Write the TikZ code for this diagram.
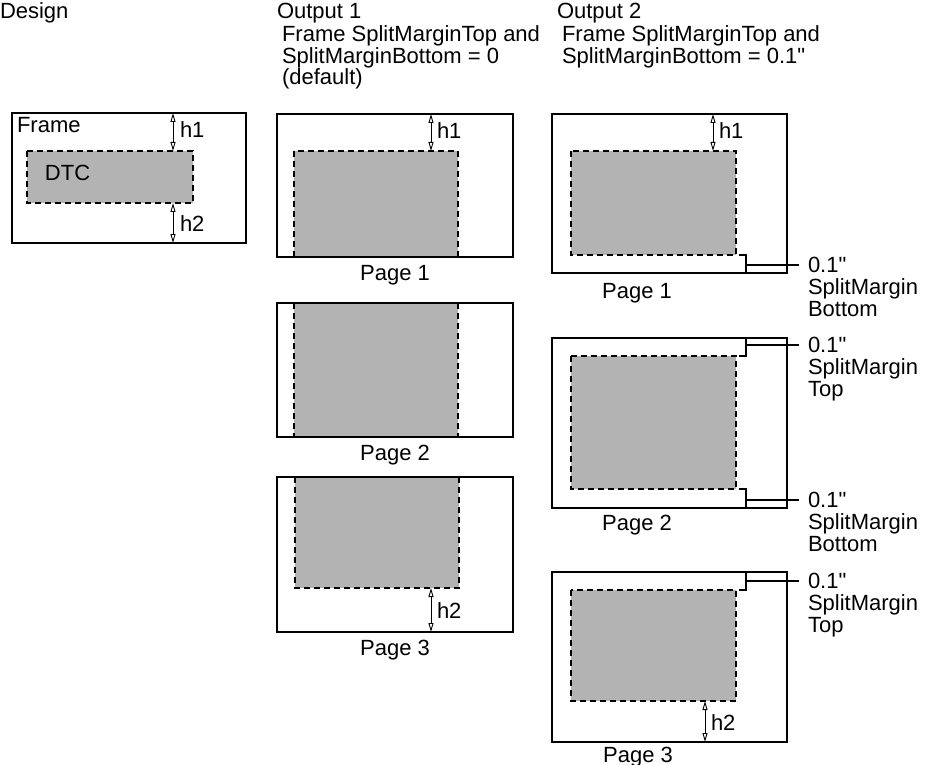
\documentclass[tikz,border=0pt]{standalone}
\usepackage{fontspec}
\setmainfont{Liberation Sans}
\newfontfamily\lsans{Liberation Sans}
\usetikzlibrary{arrows.meta}
\definecolor{dtcgray}{RGB}{179,179,179}
\begin{document}
\begin{tikzpicture}[x=1pt,y=-1pt,
  frm/.style={draw=black, line width=2.2pt},
  dtcfill/.style={fill=dtcgray},
  dtcedge/.style={draw=black, line width=1.8pt, dash pattern=on 6pt off 4pt},
  dimarrow/.style={{Triangle[open,length=9pt,width=5pt]}-{Triangle[open,length=9pt,width=5pt]}, line width=0.9pt},
  conn/.style={draw=black, line width=1.8pt},
  txt/.style={font=\lsans\fontsize{22}{20.5}\selectfont, inner sep=0pt, outer sep=0pt},
  mtxt/.style={txt, align=left, anchor=north west},
  rtxt/.style={font=\lsans\fontsize{22}{22}\selectfont, inner sep=0pt, outer sep=0pt, align=left, anchor=north west}
]
\useasboundingbox (0,0) rectangle (927,765);

% ---------------- headers
\node[txt, anchor=base west] (hdesign) at (0,19) {Design};
\node[txt, anchor=base west] (hout1) at (277,19) {Output 1};
\node[mtxt] (hout1b) at (282,26) {Frame SplitMarginTop and\\SplitMarginBottom = 0\\(default)};
\node[txt, anchor=base west] (hout2) at (557,19) {Output 2};
\node[mtxt] (hout2b) at (562,26) {Frame SplitMarginTop and\\SplitMarginBottom = 0.1"};

% ---------------- design
\fill[dtcfill] (27,151) rectangle (193,203);
\draw[frm] (12,113) rectangle (246,243);
\draw[dtcedge] (27,151) rectangle (193,203);
\node[txt, anchor=base west] (dframe) at (17,133) {Frame};
\node[txt, anchor=base west] (ddtc) at (45,181) {DTC};
\coordinate (dh1a) at (173,113); \coordinate (dh1b) at (173,151);
\coordinate (dh2a) at (173,203); \coordinate (dh2b) at (173,243);
\draw[dimarrow] (dh1a) -- (dh1b);
\draw[dimarrow] (dh2a) -- (dh2b);
\node[txt, anchor=base west] (dh1) at (180,138) {h1};
\node[txt, anchor=base west] (dh2) at (180,231) {h2};

% ---------------- output 1
% page 1
\fill[dtcfill] (294,151) rectangle (458,257);
\draw[frm] (277,114) rectangle (513,257);
\draw[dtcedge] (294,151) rectangle (458,257);
\coordinate (ah1a) at (431,114); \coordinate (ah1b) at (431,151);
\draw[dimarrow] (ah1a) -- (ah1b);
\node[txt, anchor=base west] (ah1) at (437,139) {h1};
\node[txt, anchor=base] (ap1) at (395,280) {Page 1};
% page 2
\fill[dtcfill] (294,303) rectangle (458,437);
\draw[frm] (277,303) rectangle (513,437);
\draw[dtcedge] (294,303) -- (294,437);
\draw[dtcedge] (458,303) -- (458,437);
\node[txt, anchor=base] (ap2) at (395,460) {Page 2};
% page 3
\fill[dtcfill] (295,477) rectangle (459,588);
\draw[frm] (277,477) rectangle (513,632);
\draw[dtcedge] (295,477) rectangle (459,588);
\coordinate (ah2a) at (431,588); \coordinate (ah2b) at (431,632);
\draw[dimarrow] (ah2a) -- (ah2b);
\node[txt, anchor=base west] (ah2) at (437,618) {h2};
\node[txt, anchor=base] (ap3) at (395,655) {Page 3};

% ---------------- output 2
% page 1
\fill[dtcfill] (571,151) rectangle (736,255);
\draw[frm] (552,114) rectangle (787,273);
\draw[dtcedge] (571,151) rectangle (736,255);
\coordinate (bh1a) at (713,114); \coordinate (bh1b) at (713,151);
\draw[dimarrow] (bh1a) -- (bh1b);
\node[txt, anchor=base west] (bh1) at (719,139) {h1};
\node[txt, anchor=base] (bp1) at (637,298) {Page 1};
\coordinate (k1a) at (739,255); \coordinate (k1b) at (746,255); \coordinate (k1c) at (746,273);
\draw[conn] (k1a) -- (k1b) -- (k1c);
\coordinate (k1m) at (746,265); \coordinate (k1e) at (799,265);
\draw[conn] (k1m) -- (k1e);
\node[rtxt] (m1) at (808,257) {0.1"\\SplitMargin\\Bottom};
% page 2
\fill[dtcfill] (571,356) rectangle (736,489);
\draw[frm] (552,338) rectangle (787,508);
\draw[dtcedge] (571,356) rectangle (736,489);
\coordinate (k2a) at (739,356); \coordinate (k2b) at (746,356); \coordinate (k2c) at (746,338);
\draw[conn] (k2a) -- (k2b) -- (k2c);
\coordinate (k2m) at (746,345); \coordinate (k2e) at (799,345);
\draw[conn] (k2m) -- (k2e);
\node[rtxt] (m2) at (808,337) {0.1"\\SplitMargin\\Top};
\coordinate (k3a) at (739,489); \coordinate (k3b) at (746,489); \coordinate (k3c) at (746,508);
\draw[conn] (k3a) -- (k3b) -- (k3c);
\coordinate (k3m) at (746,500); \coordinate (k3e) at (799,500);
\draw[conn] (k3m) -- (k3e);
\node[rtxt] (m3) at (808,492) {0.1"\\SplitMargin\\Bottom};
\node[txt, anchor=base] (bp2) at (637,530) {Page 2};
% page 3
\fill[dtcfill] (571,590) rectangle (736,701);
\draw[frm] (552,572) rectangle (787,742);
\draw[dtcedge] (571,590) rectangle (736,701);
\coordinate (k4a) at (739,590); \coordinate (k4b) at (746,590); \coordinate (k4c) at (746,572);
\draw[conn] (k4a) -- (k4b) -- (k4c);
\coordinate (k4m) at (746,581); \coordinate (k4e) at (799,581);
\draw[conn] (k4m) -- (k4e);
\node[rtxt] (m4) at (808,573) {0.1"\\SplitMargin\\Top};
\coordinate (bh2a) at (705,701); \coordinate (bh2b) at (705,742);
\draw[dimarrow] (bh2a) -- (bh2b);
\node[txt, anchor=base west] (bh2) at (711,730) {h2};
\node[txt, anchor=base] (bp3) at (638,762) {Page 3};
\end{tikzpicture}
\end{document}
